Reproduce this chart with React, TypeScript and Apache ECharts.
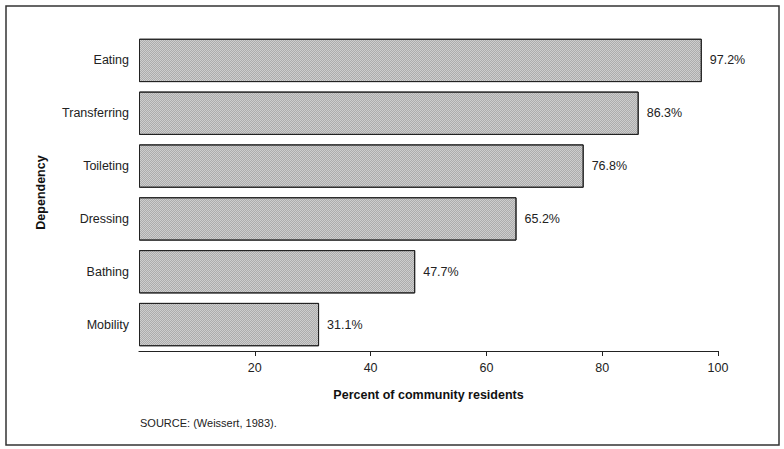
import React, { useEffect, useRef } from "react";
import * as echarts from "echarts";

const categories = ["Eating", "Transferring", "Toileting", "Dressing", "Bathing", "Mobility"];
const values = [97.2, 86.3, 76.8, 65.2, 47.7, 31.1];
const tickValues = [20, 40, 60, 80, 100];
const xAxisTitle = "Percent of community residents";
const yAxisTitle = "Dependency";
const sourceNote = "SOURCE: (Weissert, 1983).";

export default function App() {
  const ref = useRef<HTMLDivElement>(null);
  useEffect(() => {
    const chart = echarts.init(ref.current!, null, { renderer: "svg" });
    const font = "'Liberation Sans', Arial, Helvetica, sans-serif";
    chart.setOption({
      animation: false,
      backgroundColor: "#ffffff",
      textStyle: { fontFamily: font },
      grid: { left: 139, right: 66, top: 34, bottom: 98 },
      xAxis: {
        type: "value",
        min: 0,
        max: 100,
        interval: 20,
        name: xAxisTitle,
        nameLocation: "middle",
        nameGap: 37,
        nameTextStyle: { fontWeight: "bold", fontSize: 12.5, color: "#111", fontFamily: font },
        axisLine: { show: true, lineStyle: { color: "#222", width: 1.2 } },
        axisTick: { show: true, length: 5, customValues: tickValues, lineStyle: { color: "#222" } },
        axisLabel: { customValues: tickValues, fontSize: 12.5, color: "#222", margin: 10, fontFamily: font },
        splitLine: { show: false },
      },
      yAxis: {
        type: "category",
        data: categories,
        inverse: true,
        name: yAxisTitle,
        nameLocation: "middle",
        nameGap: 92,
        nameRotate: 90,
        nameTextStyle: { fontWeight: "bold", fontSize: 12.5, color: "#111", fontFamily: font },
        axisLine: { show: false },
        axisTick: { show: false },
        axisLabel: { fontSize: 12.5, color: "#222", margin: 10, fontFamily: font },
      },
      series: [
        {
          type: "bar",
          data: values,
          barCategoryGap: "18%",
          itemStyle: {
            color: "#cdcdcd",
            borderColor: "#222",
            borderWidth: 1,
            decal: {
              symbol: "rect",
              symbolSize: 1,
              dashArrayX: [[1, 1], [0, 1, 1, 0]],
              dashArrayY: [1, 0],
              color: "rgba(0,0,0,0.16)",
              rotation: 0,
            },
          },
          label: {
            show: true,
            position: "right",
            distance: 8,
            formatter: (p: any) => p.value.toFixed(1) + "%",
            fontSize: 12.5,
            color: "#222",
            fontFamily: font,
          },
        },
      ],
      graphic: [
        {
          type: "rect",
          shape: { x: 6, y: 6, width: 773, height: 439 },
          style: { fill: "none", stroke: "#333", lineWidth: 1.5 },
          silent: true,
        },
        {
          type: "text",
          left: 140,
          top: 417,
          style: { text: sourceNote, fontSize: 11, fill: "#222", fontFamily: font },
        },
      ],
    });
    return () => chart.dispose();
  }, []);
  return <div ref={ref} style={{ position: "fixed", left: 0, top: 0, width: 784, height: 449 }} />;
}
